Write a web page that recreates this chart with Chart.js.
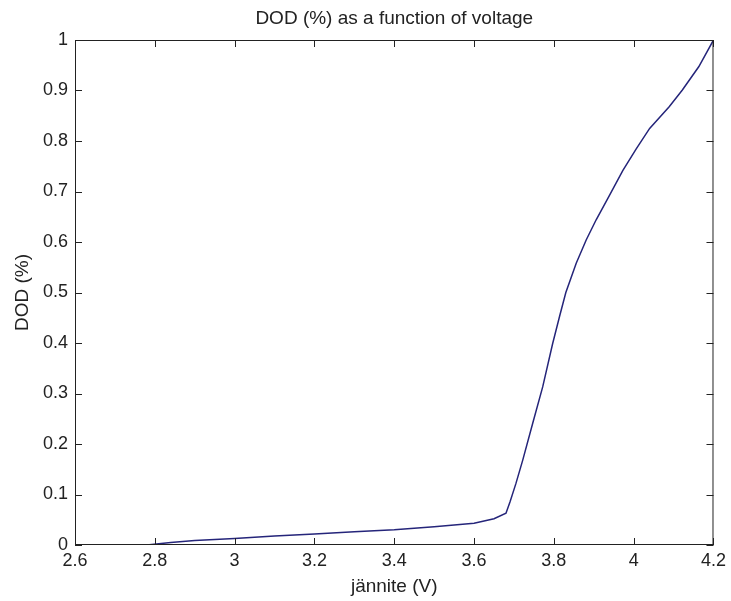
<!DOCTYPE html>
<html>
<head>
<meta charset="utf-8">
<script src="https://cdn.jsdelivr.net/npm/chart.js@4/dist/chart.umd.min.js"></script>
<style>
  body { margin: 0; background: #fff; }
  canvas { display: block; }
</style>
</head>
<body>
<canvas id="myChart" width="731" height="601"></canvas>
<script>
// Dados do gráfico
const voltage = [2.78, 2.84, 2.9, 3.0, 3.1, 3.2, 3.3, 3.4, 3.5, 3.6, 3.65, 3.68, 3.69, 3.705, 3.722,
  3.747, 3.772, 3.797, 3.815, 3.83, 3.856, 3.881, 3.906, 3.939, 3.973, 4.006, 4.04, 4.089, 4.122, 4.163, 4.2];
const dod = [0, 0.005, 0.009, 0.013, 0.018, 0.022, 0.026, 0.03, 0.036, 0.043, 0.052, 0.063, 0.085, 0.122, 0.168,
  0.241, 0.313, 0.399, 0.455, 0.5, 0.558, 0.604, 0.644, 0.692, 0.742, 0.784, 0.825, 0.868, 0.901, 0.947, 1.0];
const xTicks = [2.6, 2.8, 3, 3.2, 3.4, 3.6, 3.8, 4, 4.2];
const yTicks = [0, 0.1, 0.2, 0.3, 0.4, 0.5, 0.6, 0.7, 0.8, 0.9, 1];

const family = '"Liberation Sans", Arial, sans-serif';
const tickFont = { family: family, size: 18 };
const labelFont = { family: family, size: 19 };

// caixa e marcas internas, estilo matlab
const boxPlugin = {
  id: 'box',
  afterDatasetsDraw(chart) {
    const { ctx, chartArea: a, scales } = chart;
    ctx.save();
    ctx.strokeStyle = '#222';
    ctx.lineWidth = 1;
    ctx.strokeRect(a.left + 0.5, a.top + 0.5, a.right - a.left - 1, a.bottom - a.top - 1);
    const len = 7;
    ctx.beginPath();
    xTicks.forEach(v => {
      const x = Math.round(scales.x.getPixelForValue(v)) + 0.5;
      ctx.moveTo(x, a.bottom); ctx.lineTo(x, a.bottom - len);
      ctx.moveTo(x, a.top); ctx.lineTo(x, a.top + len);
    });
    yTicks.forEach(v => {
      const y = Math.round(scales.y.getPixelForValue(v)) + 0.5;
      ctx.moveTo(a.left, y); ctx.lineTo(a.left + len, y);
      ctx.moveTo(a.right, y); ctx.lineTo(a.right - len, y);
    });
    ctx.stroke();
    ctx.restore();
  }
};

const ctx = document.getElementById('myChart').getContext('2d');
const myChart = new Chart(ctx, {
  type: 'line',
  data: {
    datasets: [{
      data: voltage.map((v, i) => ({ x: v, y: dod[i] })),
      borderColor: '#25257a',
      borderWidth: 1.5,
      pointRadius: 0,
      tension: 0,
      fill: false
    }]
  },
  options: {
    responsive: false,
    animation: false,
    layout: { padding: { left: 0, right: 13, top: 0, bottom: 0 } },
    plugins: {
      legend: { display: false },
      tooltip: { enabled: false },
      title: {
        display: true,
        text: 'DOD (%) as a function of voltage',
        fullSize: false,
        color: '#222',
        font: { family: family, size: 19, weight: 'normal' },
        padding: { top: 7, bottom: 10.2 }
      }
    },
    scales: {
      x: {
        type: 'linear',
        min: 2.6,
        max: 4.2,
        afterBuildTicks: s => { s.ticks = xTicks.map(v => ({ value: v })); },
        afterFit: s => { s.height = 56; },
        ticks: { color: '#222', font: tickFont, padding: 5, maxRotation: 0, autoSkip: false, callback: v => String(v) },
        grid: { display: false, drawTicks: false },
        border: { display: false },
        title: { display: true, text: 'jännite (V)', color: '#222', font: labelFont, padding: { top: 0, bottom: 2.5 } }
      },
      y: {
        type: 'linear',
        min: 0,
        max: 1,
        afterBuildTicks: s => { s.ticks = yTicks.map(v => ({ value: v })); },
        afterFit: s => { s.width = 75; },
        ticks: { color: '#222', font: tickFont, padding: 7, autoSkip: false, callback: v => String(v) },
        grid: { display: false, drawTicks: false },
        border: { display: false },
        title: { display: true, text: 'DOD (%)', color: '#222', font: labelFont, padding: { top: 11.5, bottom: 0 } }
      }
    }
  },
  plugins: [boxPlugin]
});
</script>
</body>
</html>
